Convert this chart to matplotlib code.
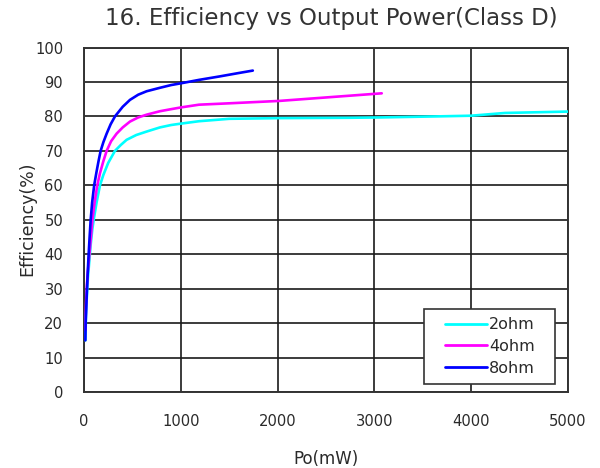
import matplotlib
matplotlib.use("Agg")
import matplotlib.pyplot as plt
from matplotlib.patches import Rectangle

plt.rcParams['font.family'] = ['DejaVu Sans']

# 2ohm (cyan)
p_2ohm = [15, 20, 30, 40, 55, 70, 85, 100, 130, 165, 200, 250, 320, 380, 440,
          540, 647, 784, 900, 1000, 1188, 1500, 2020, 2740, 3055, 3640, 4000,
          4350, 5000]
e_2ohm = [15, 22, 28, 33, 38, 43, 47, 50, 55, 60, 63, 66.5, 70, 71.7, 73.2,
          74.6, 75.6, 76.8, 77.5, 77.9, 78.6, 79.3, 79.5, 79.6, 79.7, 80.0, 80.2,
          81.0, 81.4]
# 4ohm (magenta)
p_4ohm = [15, 20, 30, 40, 59, 75, 87, 110, 137, 165, 200, 234, 280, 337, 400,
          475, 560, 647, 784, 900, 1000, 1188, 1500, 2020, 2500, 3076]
e_4ohm = [18, 25, 31, 35, 41, 46, 50, 55, 60, 63.5, 67, 70, 72.8, 75, 76.8,
          78.5, 79.7, 80.5, 81.5, 82.1, 82.6, 83.4, 83.8, 84.5, 85.5, 86.7]
# 8ohm (blue)
p_8ohm = [14, 17, 24, 31, 39, 48, 58, 69, 84, 105, 130, 150, 172, 200, 234,
          275, 320, 400, 475, 560, 647, 784, 900, 1000, 1188, 1400, 1600, 1744]
e_8ohm = [15, 20, 25, 30, 35, 40, 45, 50, 55, 60, 64, 67, 70, 72.5, 75,
          77.7, 80, 82.8, 84.8, 86.3, 87.3, 88.3, 89.1, 89.6, 90.6, 91.6, 92.6, 93.3]

series_labels = ['2ohm', '4ohm', '8ohm']
x_ticks = [0, 1000, 2000, 3000, 4000, 5000]
y_ticks = list(range(0, 101, 10))

W, H = 600, 468
fig = plt.figure(figsize=(W / 100, H / 100), dpi=100)
ax_l, ax_r, ax_t, ax_b = 84, 568, 47.5, 392
ax = fig.add_axes([ax_l / W, 1 - ax_b / H, (ax_r - ax_l) / W, (ax_b - ax_t) / H])

colors = ['#00FFFF', '#FF00FF', '#0000FF']
for (px, ey), lab, c in zip([(p_2ohm, e_2ohm), (p_4ohm, e_4ohm), (p_8ohm, e_8ohm)],
                            series_labels, colors):
    ax.plot(px, ey, color=c, lw=1.9, label=lab, zorder=4, solid_capstyle='round',
            solid_joinstyle='round')

ax.set_xlim(0, 5000)
ax.set_ylim(0, 100)
ax.set_xticks(x_ticks)
ax.set_yticks(y_ticks)
ax.grid(True, color='#1a1a1a', lw=1.2, zorder=1)
ax.set_axisbelow(True)
for s in ax.spines.values():
    s.set_color('#333333')
    s.set_linewidth(1.4)
ax.tick_params(axis='both', length=0, labelsize=10.6, colors='#2a2a2a')
ax.tick_params(axis='x', pad=16)
ax.tick_params(axis='y', pad=15)

ax.set_xlabel('Po(mW)', fontsize=12, color='#2a2a2a')
ax.set_ylabel('Efficiency(%)', fontsize=12.5, color='#2a2a2a')
ax.xaxis.set_label_coords(0.5, (ax_b - 459) / (ax_b - ax_t))
ax.xaxis.label.set_va('center')
ax.yaxis.set_label_coords((27 - ax_l) / (ax_r - ax_l), (ax_b - 219) / (ax_b - ax_t))
ax.yaxis.label.set_va('center')

fig.text(331 / W, 1 - 18 / H, '16. Efficiency vs Output Power(Class D)',
         fontsize=16.5, color='#333333', ha='center', va='center')

# legend box
rect = Rectangle(((424 - ax_l) / (ax_r - ax_l), (ax_b - 384) / (ax_b - ax_t)),
                 131 / (ax_r - ax_l), 75 / (ax_b - ax_t), transform=ax.transAxes,
                 facecolor='white', edgecolor='#333333', lw=1.2, zorder=5)
ax.add_patch(rect)
leg = ax.legend(loc='center', bbox_to_anchor=((490 - ax_l) / (ax_r - ax_l),
                                               (ax_b - 346.5) / (ax_b - ax_t)),
                frameon=False, fontsize=11.5, handlelength=2.6, handletextpad=0.15,
                labelspacing=0.42, borderpad=0.1)
leg.set_zorder(6)
for line in leg.get_lines():
    line.set_linewidth(2.0)
for t in leg.get_texts():
    t.set_color('#2a2a2a')

fig.savefig('out.png', dpi=100)
